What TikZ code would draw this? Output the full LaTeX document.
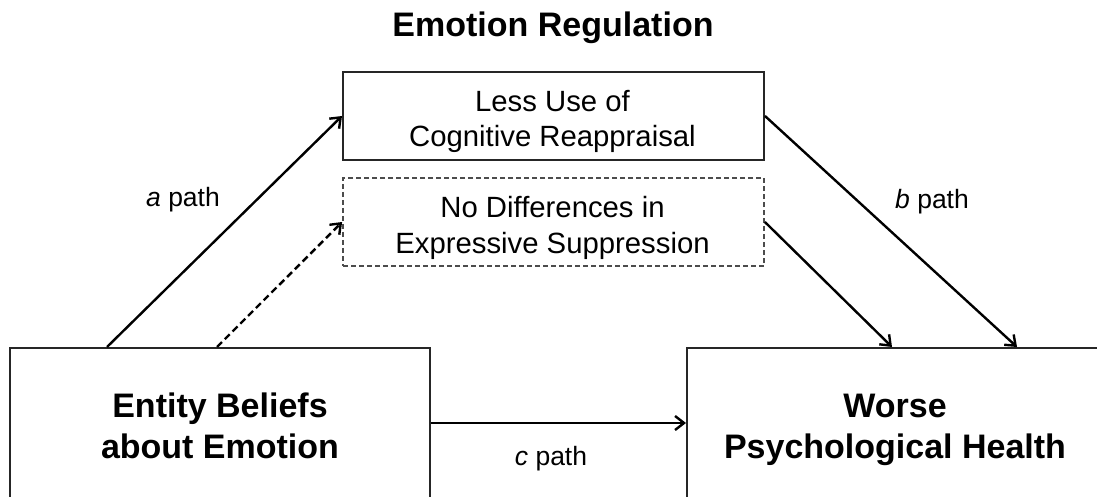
\documentclass[tikz,border=0pt]{standalone}
\usepackage{fontspec}
\setmainfont{Liberation Sans}
\usetikzlibrary{arrows.meta,calc}
\begin{document}
\begin{tikzpicture}[x=1pt,y=-1pt,
  box/.style={draw=black!85,line width=2pt,inner sep=0pt},
  medbox/.style={box,minimum width=421pt,minimum height=88pt},
  bigbox/.style={box,minimum height=158pt},
  medtxt/.style={anchor=base,inner sep=0pt,font=\fontsize{29.3}{35}\selectfont},
  bigtxt/.style={anchor=base,inner sep=0pt,font=\fontsize{34}{40}\selectfont\bfseries},
  conn/.style={line width=2.4pt,-{Straight Barb[length=9pt,width=14pt]}},
  lbl/.style={anchor=base,inner sep=0pt,font=\fontsize{26.5}{30}\selectfont}
]
\useasboundingbox (0,0) rectangle (1097,497);
\clip (0,0) rectangle (1097,497);
\node[bigtxt] (title) at (553,37) {Emotion Regulation};
% boxes
\node[medbox] (top) at (553.5,116) {};
\node[medbox,dash pattern=on 5pt off 3pt,draw=black!70,line width=1.8pt] (mid) at (553.5,222) {};
\node[bigbox,minimum width=420pt] (lb) at (220,427) {};
\node[bigbox,minimum width=412pt] (rb) at (893,427) {};
% box texts
\node[medtxt] (top1) at (552.5,112) {Less Use of};
\node[medtxt] (top2) at (552.5,147) {Cognitive Reappraisal};
\node[medtxt] (mid1) at (552.5,217) {No Differences in};
\node[medtxt] (mid2) at (552.5,253) {Expressive Suppression};
\node[bigtxt] (lb1) at (220,417) {Entity Beliefs};
\node[bigtxt] (lb2) at (220,458) {about Emotion};
\node[bigtxt] (rb1) at (895,417) {Worse};
\node[bigtxt] (rb2) at (895,458) {Psychological Health};
% connectors
\draw[conn] ($(lb.north west)+(98,0)$) -- (top.west);
\draw[conn,dash pattern=on 7pt off 4pt] ($(lb.north west)+(208,0)$) -- (mid.west);
\draw[conn] (top.east) -- ($(rb.north west)+(331,0)$);
\draw[conn] (mid.east) -- ($(rb.north west)+(206,0)$);
\draw[conn] ($(lb.east)+(0,-4)$) -- ($(rb.west)+(0,-4)$);
% labels
\node[lbl] (la) at (183,207) {\textit{a} path};
\node[lbl] (lbp) at (932,208) {\textit{b} path};
\node[lbl] (lc) at (551,465) {\textit{c} path};
\end{tikzpicture}
\end{document}
